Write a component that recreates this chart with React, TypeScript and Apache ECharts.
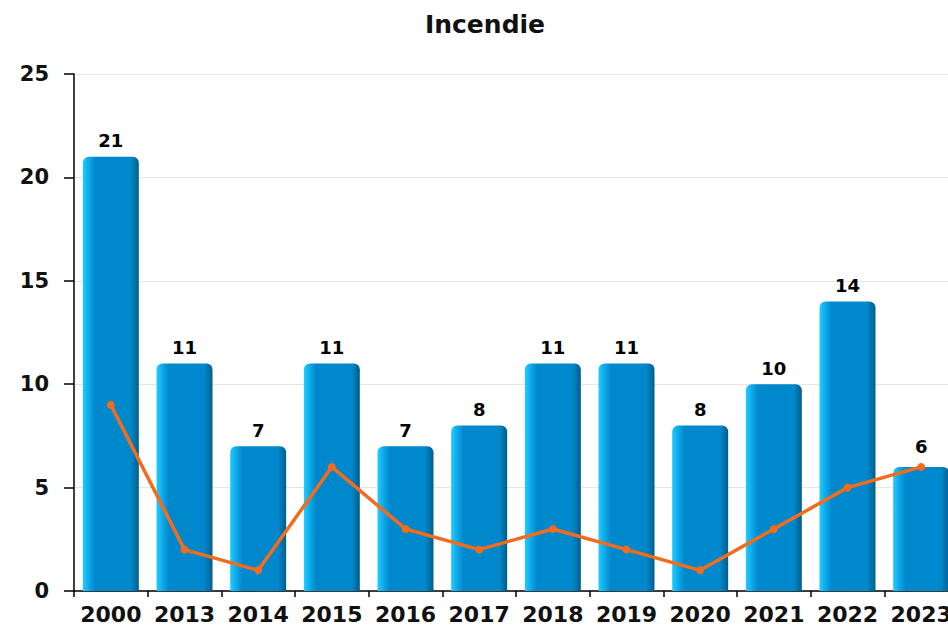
import React, { useEffect, useRef } from "react";
import * as echarts from "echarts";

const categories = ["2000", "2013", "2014", "2015", "2016", "2017", "2018", "2019", "2020", "2021", "2022", "2023"];
const barValues = [21, 11, 7, 11, 7, 8, 11, 11, 8, 10, 14, 6];
const lineValues = [9, 2, 1, 6, 3, 2, 3, 2, 1, 3, 5, 6];

export default function App() {
  const ref = useRef<HTMLDivElement>(null);
  useEffect(() => {
    document.body.style.margin = "0";
    const chart = echarts.init(ref.current!, null, { renderer: "svg" });
    const font = "DejaVu Sans";
    chart.setOption({
      animation: false,
      backgroundColor: "#ffffff",
      title: {
        text: "Incendie",
        left: "center",
        top: 7,
        textStyle: { fontFamily: font, fontSize: 25, fontWeight: "bold", color: "#111" },
      },
      grid: { left: 74, right: 12, top: 74, bottom: 34 },
      xAxis: {
        type: "category",
        data: categories,
        axisLine: { lineStyle: { color: "#000", width: 1.5 } },
        axisTick: { show: true, interval: 0, length: 6, lineStyle: { color: "#000", width: 1.5 } },
        axisLabel: { interval: 0, hideOverlap: false, fontFamily: font, fontSize: 22, fontWeight: "bold", color: "#111", margin: 12 },
      },
      yAxis: {
        type: "value",
        min: 0,
        max: 25,
        interval: 5,
        axisLine: { show: true, lineStyle: { color: "#000", width: 1.5 } },
        axisTick: { show: true, length: 10, lineStyle: { color: "#000", width: 1.5 } },
        axisLabel: { fontFamily: font, fontSize: 21, fontWeight: "bold", color: "#111", margin: 25 },
        splitLine: { lineStyle: { color: "#e6e6e6" } },
      },
      series: [
        {
          type: "bar",
          data: barValues,
          barCategoryGap: "24%",
          itemStyle: {
            borderRadius: [6, 6, 0, 0],
            color: new echarts.graphic.LinearGradient(0, 0, 1, 0, [
              { offset: 0, color: "#22ccff" },
              { offset: 0.13, color: "#0aa2e4" },
              { offset: 0.22, color: "#0088cc" },
              { offset: 0.85, color: "#0088cc" },
              { offset: 1, color: "#005e8e" },
            ]),
          },
          label: {
            show: true,
            position: "top",
            distance: 7,
            fontFamily: font,
            fontSize: 18,
            fontWeight: "bold",
            color: "#000",
            formatter: (p: any) => (p.dataIndex === barValues.length - 1 ? "" : String(p.value)),
          },
          z: 2,
        },
        {
          type: "line",
          data: lineValues,
          symbol: "circle",
          symbolSize: 8,
          lineStyle: { color: "#f26c1d", width: 3.5 },
          itemStyle: { color: "#f26c1d" },
          label: {
            show: true,
            position: "top",
            distance: 7,
            fontFamily: font,
            fontSize: 18,
            fontWeight: "bold",
            color: "#000",
            formatter: (p: any) => (p.dataIndex === lineValues.length - 1 ? String(p.value) : ""),
          },
          z: 3,
        },
      ],
    });
    return () => chart.dispose();
  }, []);
  return (
    <div style={{ width: 948, height: 625, overflow: "hidden", position: "relative" }}>
      <div ref={ref} style={{ width: 970, height: 625 }} />
    </div>
  );
}
